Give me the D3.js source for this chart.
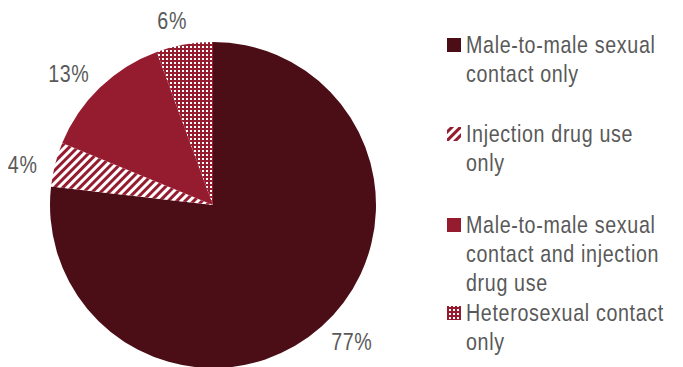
<!DOCTYPE html>
<html>
<head>
<meta charset="utf-8">
<script src="https://cdn.jsdelivr.net/npm/d3@7"></script>
<style>
  body { margin: 0; background: #fff; }
  svg text { font-family: "Liberation Sans", Arial, sans-serif; fill: #595959; letter-spacing: 0.8px; }
</style>
</head>
<body>
<svg class="chart" width="683" height="367"></svg>
<script>
const categories = [
    'Male-to-male sexual contact only',
    'Injection drug use only',
    'Male-to-male sexual contact and injection drug use',
    'Heterosexual contact only'
];
const values = [76.8, 4.4, 13.2, 5.6];
const legendLines = [
    ['Male-to-male sexual', 'contact only'],
    ['Injection drug use', 'only'],
    ['Male-to-male sexual', 'contact and injection', 'drug use'],
    ['Heterosexual contact', 'only']
];

const dark = '#4b0e17', red = '#951b2f';
const narrow = 0.82; // squeeze the font sideways, no narrow face installed
const svg = d3.select('svg.chart');
const defs = svg.append('defs');

// wide upward diagonal
const stripes = defs.append('pattern')
    .attr('id', 'stripes')
    .attr('patternUnits', 'userSpaceOnUse')
    .attr('width', 6).attr('height', 6)
    .attr('patternTransform', 'rotate(45)');
stripes.append('rect').attr('width', 6).attr('height', 6).attr('fill', '#fff');
stripes.append('rect').attr('width', 3).attr('height', 6).attr('fill', red);

// small white dots on red
const dots = defs.append('pattern')
    .attr('id', 'dots')
    .attr('patternUnits', 'userSpaceOnUse')
    .attr('width', 4).attr('height', 4);
dots.append('rect').attr('width', 4).attr('height', 4).attr('fill', red);
dots.append('rect').attr('x', 1).attr('y', 1).attr('width', 2).attr('height', 2).attr('fill', '#fff');

const fills = [dark, 'url(#stripes)', red, 'url(#dots)'];

const cx = 213, cy = 205, radius = 163;
const g = svg.append('g').attr('transform', `translate(${cx},${cy})`);

const pie = d3.pie().sort(null).value(d => d);
const arcs = pie(values);
const arc = d3.arc().innerRadius(0).outerRadius(radius);

g.selectAll('path.slice')
    .data(arcs)
    .enter().append('path')
    .attr('class', 'slice')
    .attr('d', arc)
    .attr('fill', (d, i) => fills[i]);

// outside-end labels: box pushed out from the rim
const labelR = 180, capH = 17;
g.selectAll('g.pct')
    .data(arcs)
    .enter().append('g')
    .attr('class', 'pct')
    .each(function(d) {
        const grp = d3.select(this);
        const t = grp.append('text')
            .attr('text-anchor', 'middle')
            .attr('dy', '0.35em')
            .attr('font-size', 24)
            .text(Math.round(d.value) + '%');
        const w = t.node().getComputedTextLength() * narrow;
        const a = (d.startAngle + d.endAngle) / 2 - 0.035;
        const ux = Math.sin(a), uy = -Math.cos(a);
        const x = ux * labelR + ux * w / 2;
        const y = uy * labelR + uy * capH / 2;
        grp.attr('transform', `translate(${x},${y}) scale(${narrow},1)`);
    });

// legend
const legendTop = [53, 142, 233, 321];
const legend = svg.append('g');
legendLines.forEach((lines, i) => {
    legend.append('rect')
        .attr('x', 447).attr('y', legendTop[i] - 15)
        .attr('width', 14).attr('height', 14)
        .attr('fill', fills[i]);
    const t = legend.append('g')
        .attr('transform', `translate(466,${legendTop[i]}) scale(${narrow},1)`)
        .append('text')
        .attr('font-size', 24);
    lines.forEach((line, j) => {
        t.append('tspan')
            .attr('x', 0)
            .attr('dy', j === 0 ? 0 : 29)
            .text(line);
    });
});
</script>
</body>
</html>
